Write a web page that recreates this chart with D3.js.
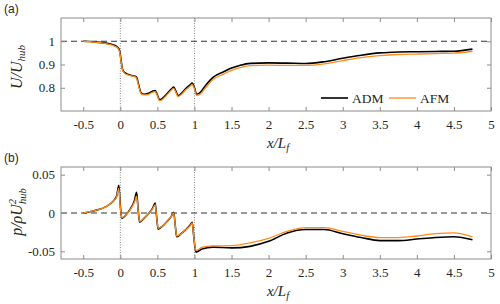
<!DOCTYPE html>
<html>
<head>
<meta charset="utf-8">
<script src="https://cdn.jsdelivr.net/npm/d3@7"></script>
<style>
  body { margin: 0; background: #fff; }
  svg { display: block; }
</style>
</head>
<body>
<svg id="chart" width="500" height="304"></svg>
<script>
// panel (a): streamwise velocity
var xU = [-0.5,-0.35,-0.2,-0.1,-0.04,-0.01,0.01,0.03,0.06,0.1,0.15,0.2,0.22,0.25,0.28,0.32,0.38,0.44,0.47,0.5,0.53,0.57,0.63,0.69,0.72,0.75,0.78,0.82,0.88,0.94,0.97,1.0,1.03,1.08,1.15,1.25,1.4,1.5,1.6,1.75,2,2.25,2.5,2.75,3,3.25,3.5,3.75,4,4.25,4.5,4.75];
var uADM = [1.0,0.997,0.992,0.985,0.975,0.96,0.92,0.88,0.865,0.858,0.853,0.85,0.845,0.81,0.778,0.772,0.776,0.786,0.788,0.77,0.748,0.755,0.775,0.795,0.803,0.785,0.766,0.775,0.795,0.812,0.82,0.8,0.772,0.78,0.81,0.845,0.87,0.885,0.895,0.905,0.907,0.906,0.904,0.912,0.927,0.94,0.95,0.954,0.955,0.956,0.957,0.966];
var uAFM = [1.0,0.996,0.99,0.982,0.972,0.955,0.915,0.877,0.862,0.855,0.851,0.847,0.84,0.805,0.774,0.769,0.772,0.781,0.783,0.765,0.744,0.75,0.77,0.79,0.797,0.78,0.762,0.77,0.79,0.806,0.814,0.795,0.767,0.773,0.8,0.835,0.86,0.875,0.885,0.895,0.897,0.896,0.896,0.903,0.917,0.93,0.938,0.943,0.945,0.947,0.949,0.957];

// panel (b): pressure
var xP = [-0.5,-0.35,-0.2,-0.1,-0.05,-0.02,0.0,0.02,0.08,0.14,0.19,0.22,0.24,0.26,0.32,0.38,0.44,0.47,0.49,0.51,0.57,0.63,0.69,0.72,0.74,0.76,0.82,0.88,0.94,0.97,0.99,1.02,1.1,1.25,1.5,1.75,2,2.25,2.5,2.75,3,3.25,3.5,3.75,4,4.25,4.5,4.75];
var pADM = [0,0.003,0.008,0.015,0.022,0.036,0.01,-0.007,-0.002,0.006,0.016,0.027,0.005,-0.012,-0.007,-0.001,0.007,0.013,-0.005,-0.021,-0.017,-0.011,-0.004,0.001,-0.015,-0.031,-0.027,-0.022,-0.016,-0.012,-0.03,-0.051,-0.047,-0.0445,-0.0455,-0.0435,-0.037,-0.026,-0.0215,-0.0215,-0.027,-0.032,-0.036,-0.036,-0.034,-0.032,-0.031,-0.035];
var pAFM = [0,0.003,0.008,0.015,0.021,0.032,0.008,-0.006,-0.002,0.005,0.014,0.022,0.004,-0.011,-0.007,-0.001,0.006,0.011,-0.005,-0.02,-0.017,-0.011,-0.004,0.0,-0.015,-0.03,-0.027,-0.022,-0.017,-0.013,-0.03,-0.049,-0.045,-0.043,-0.0425,-0.039,-0.033,-0.024,-0.019,-0.019,-0.024,-0.029,-0.032,-0.032,-0.030,-0.027,-0.026,-0.031];

var xTicks = [-0.5,0,0.5,1,1.5,2,2.5,3,3.5,4,4.5,5];
var uTicks = [0.8,0.9,1];
var pTicks = [-0.05,0,0.05];
var seriesNames = ["ADM","AFM"];
var seriesColors = ["#000000","#ff8c1a"];

var svg = d3.select("#chart");
var serif = "'Liberation Serif', 'Times New Roman', serif";
var boxColor = "#8c8c8c";
var textColor = "#262626";

var x = d3.scaleLinear().domain([-0.8, 5]).range([61, 491]);

function drawPanel(opt) {
    var y = d3.scaleLinear().domain(opt.yDomain).range([opt.bottom, opt.top]);
    var g = svg.append("g");

    // dotted markers at x = 0 and x = 1
    [0, 1].forEach(function(v) {
        g.append("line")
            .attr("x1", x(v)).attr("x2", x(v))
            .attr("y1", opt.top).attr("y2", opt.bottom)
            .attr("stroke", "#666").attr("stroke-width", 0.8)
            .attr("stroke-dasharray", "1,1.5");
    });
    g.append("line")
        .attr("x1", x.range()[0]).attr("x2", x.range()[1])
        .attr("y1", y(opt.refY)).attr("y2", y(opt.refY))
        .attr("stroke", "#333").attr("stroke-width", 1)
        .attr("stroke-dasharray", "6,4");

    // axes, ticks pointing inward on all four sides
    var xb = g.append("g").attr("transform", "translate(0," + opt.bottom + ")")
        .call(d3.axisBottom(x).tickValues(xTicks).tickFormat(String).tickSizeInner(-4).tickSizeOuter(0).tickPadding(9));
    var xt = g.append("g").attr("transform", "translate(0," + opt.top + ")")
        .call(d3.axisTop(x).tickValues(xTicks).tickFormat("").tickSizeInner(-4).tickSizeOuter(0));
    var yl = g.append("g").attr("transform", "translate(" + x.range()[0] + ",0)")
        .call(d3.axisLeft(y).tickValues(opt.yTicks).tickFormat(String).tickSizeInner(-4).tickSizeOuter(0).tickPadding(6));
    var yr = g.append("g").attr("transform", "translate(" + x.range()[1] + ",0)")
        .call(d3.axisRight(y).tickValues(opt.yTicks).tickFormat("").tickSizeInner(-4).tickSizeOuter(0));
    [xb, xt, yl, yr].forEach(function(a) {
        a.attr("font-family", serif).attr("font-size", 13);
        a.select(".domain").remove();
        a.selectAll(".tick line").attr("stroke", boxColor);
        a.selectAll(".tick text").attr("fill", textColor);
    });

    g.append("rect")
        .attr("x", x.range()[0]).attr("y", opt.top)
        .attr("width", x.range()[1] - x.range()[0]).attr("height", opt.bottom - opt.top)
        .attr("fill", "none").attr("stroke", boxColor).attr("stroke-width", 1);

    var line = d3.line()
        .x(function(d) { return x(d[0]); })
        .y(function(d) { return y(d[1]); })
        .curve(d3.curveMonotoneX);
    [opt.s1, opt.s2].forEach(function(vals, i) {
        g.append("path")
            .datum(opt.xs.map(function(xv, k) { return [xv, vals[k]]; }))
            .attr("d", line)
            .attr("fill", "none")
            .attr("stroke", seriesColors[i])
            .attr("stroke-width", i === 0 ? 1.6 : 1.3);
    });

    var xl = g.append("text")
        .attr("x", 278).attr("y", opt.bottom + 37)
        .attr("text-anchor", "middle")
        .attr("font-family", serif).attr("font-style", "italic")
        .attr("font-size", 15).attr("fill", textColor);
    xl.append("tspan").text("x/L");
    xl.append("tspan").attr("font-size", 10.5).attr("dy", 3).text("f");

    g.append("text")
        .attr("x", 4).attr("y", opt.top - 5)
        .attr("font-family", "'Liberation Sans', Arial, sans-serif")
        .attr("font-size", 12).attr("fill", textColor)
        .text(opt.tag);
    return y;
}

drawPanel({ top: 18, bottom: 111, yDomain: [0.7, 1.1], yTicks: uTicks, refY: 1,
    xs: xU, s1: uADM, s2: uAFM, tag: "(a)" });
drawPanel({ top: 167, bottom: 259, yDomain: [-0.06, 0.06], yTicks: pTicks, refY: 0,
    xs: xP, s1: pADM, s2: pAFM, tag: "(b)" });

// y labels
var ya = svg.append("text")
    .attr("transform", "translate(22,67) rotate(-90)")
    .attr("text-anchor", "middle")
    .attr("font-family", serif).attr("font-style", "italic")
    .attr("font-size", 16).attr("fill", textColor);
ya.append("tspan").text("U/U");
ya.append("tspan").attr("font-size", 11).attr("dy", 3).text("hub");

var yb = svg.append("text")
    .attr("transform", "translate(22,212) rotate(-90)")
    .attr("text-anchor", "middle")
    .attr("font-family", serif).attr("font-style", "italic")
    .attr("font-size", 16).attr("fill", textColor);
yb.append("tspan").text("p/\u03C1U");
yb.append("tspan").attr("font-size", 10.5).attr("dy", -6).text("2");
yb.append("tspan").attr("font-size", 10.5).attr("dx", -5).attr("dy", 10).text("hub");

// legend
var legend = svg.append("g");
var legX = [321, 389];
seriesNames.forEach(function(name, i) {
    legend.append("line")
        .attr("x1", legX[i]).attr("x2", legX[i] + 27)
        .attr("y1", 98).attr("y2", 98)
        .attr("stroke", seriesColors[i]).attr("stroke-width", i === 0 ? 1.6 : 1.3);
    legend.append("text")
        .attr("x", legX[i] + 31).attr("y", 102.5)
        .attr("font-family", serif).attr("font-size", 13.5).attr("fill", textColor)
        .text(name);
});
</script>
</body>
</html>
